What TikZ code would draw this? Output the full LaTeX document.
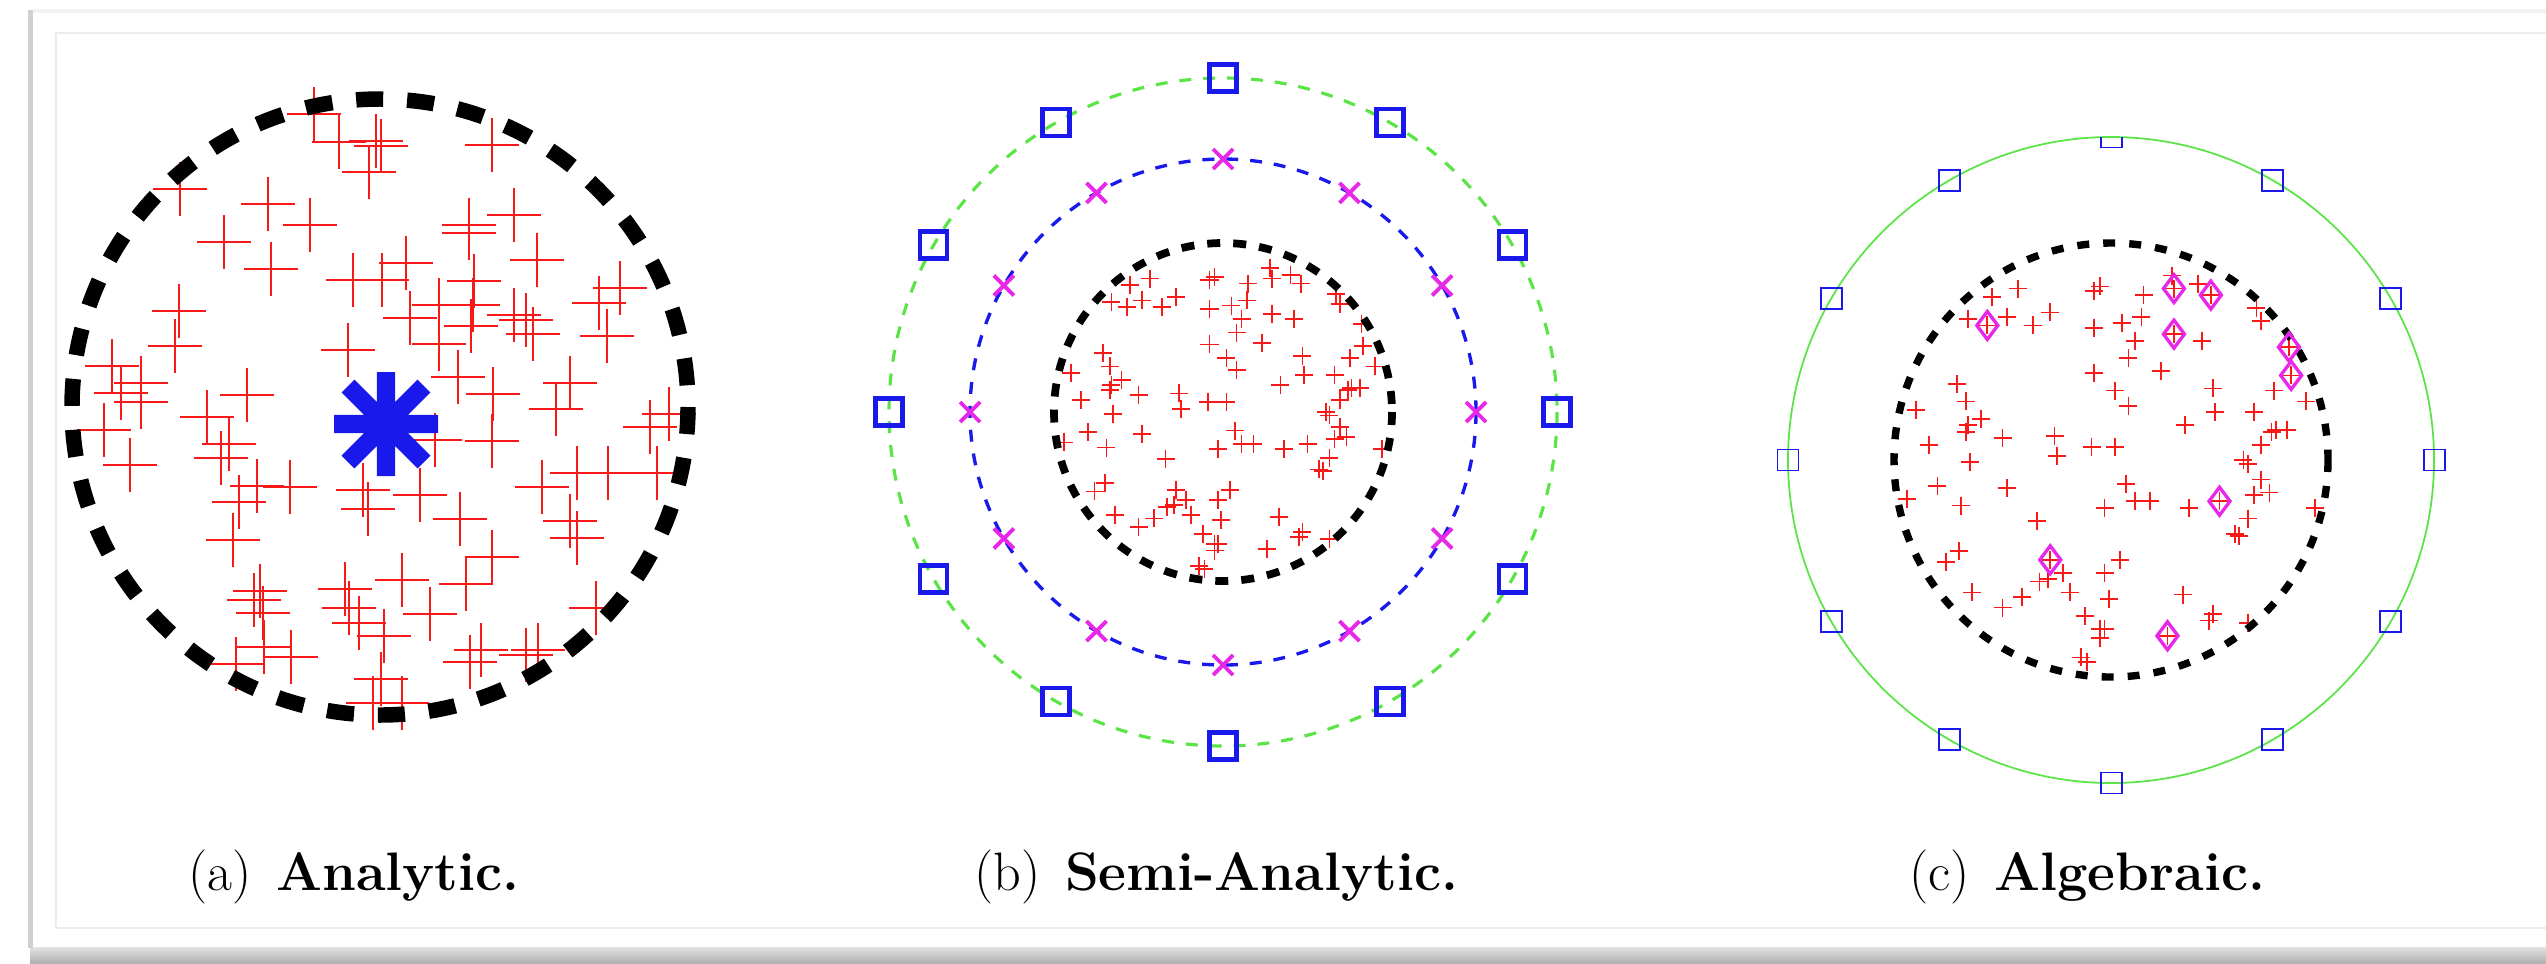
\documentclass[tikz,border=0pt]{standalone}
\usepackage{tikz}
\usetikzlibrary{calc}
\definecolor{plotred}{RGB}{250,25,25}
\definecolor{plotblue}{RGB}{25,25,235}
\definecolor{plotgreen}{RGB}{90,228,70}
\definecolor{plotmagenta}{RGB}{232,40,232}
\definecolor{framegrey}{RGB}{208,208,208}
\definecolor{rulegrey}{RGB}{236,236,236}

% samples of the analytic panel, in pixels
\def\analyticpts{314/114, 339/142, 376/141, 381/146, 369/172, 492/145, 180/189,
  268/204, 310/225, 224/242, 271/269, 469/225, 469/233, 514/215, 537/260,
  353/280, 382/280, 406/263, 474/281, 473/305, 526/320, 533/334, 514/315,
  620/288, 599/303, 607/336, 179/311, 175/346, 439/305, 410/318, 439/344,
  471/326, 348/350, 112/366, 141/383, 141/402, 121/393, 247/395, 458/377,
  493/394, 570/383, 556/409, 207/417, 229/444, 221/458, 104/430, 130/465,
  650/427, 669/414, 492/441, 435/440, 257/486, 290/487, 239/502, 363/490,
  368/509, 420/495, 460/519, 542/487, 577/473, 608/473, 657/473, 570/521,
  577/538, 233/540, 492/557, 466/584, 402/580, 260/591, 254/600, 263/613,
  345/589, 349/608, 359/623, 384/636, 430/614, 596/608, 264/647, 291/657,
  236/664, 481/650, 470/662, 538/650, 526/655, 381/679, 373/703, 402/703}
% samples of panels (b) and (c), relative to the inner radius
\def\unitpts{0.28/-0.85, 0.29/-0.79, 0.40/-0.81, 0.46/-0.76, -0.08/-0.78,
  -0.05/-0.80, -0.43/-0.79, 0.15/-0.76, -0.55/-0.75, 0.67/-0.70, 0.69/-0.64,
  -0.66/-0.65, -0.57/-0.62, -0.48/-0.66, -0.36/-0.62, -0.28/-0.68,
  -0.08/-0.61, 0.05/-0.63, 0.14/-0.66, 0.11/-0.55, 0.29/-0.58, 0.42/-0.55,
  0.82/-0.52, 0.83/-0.39, 0.08/-0.47, -0.08/-0.40, 0.23/-0.41, 0.02/-0.32,
  0.08/-0.25, 0.47/-0.33, 0.75/-0.32, 0.90/-0.27, -0.71/-0.35, -0.67/-0.27,
  -0.90/-0.23, -0.60/-0.19, -0.66/-0.16, -0.67/-0.13, 0.48/-0.22,
  0.66/-0.22, 0.34/-0.16, 0.74/-0.13, 0.76/-0.14, 0.81/-0.14, -0.50/-0.10,
  -0.26/-0.11, -0.84/-0.07, 0.69/-0.07, -0.09/-0.06, 0.02/-0.06,
  -0.25/-0.02, -0.65/0.01, 0.61/0.00, 0.63/0.02, 0.69/0.09, 0.07/0.11,
  -0.80/0.12, -0.48/0.13, 0.66/0.16, 0.73/0.15, -0.94/0.18, 0.11/0.19,
  0.18/0.19, -0.03/0.22, 0.36/0.22, 0.50/0.19, 0.94/0.22, -0.69/0.21,
  -0.34/0.28, 0.63/0.27, 0.57/0.34, 0.59/0.35, -0.70/0.42, -0.76/0.47,
  0.04/0.46, -0.28/0.46, -0.22/0.52, -0.03/0.52, -0.33/0.56, -0.29/0.55,
  -0.64/0.61, -0.19/0.61, 0.33/0.62, -0.41/0.63, -0.01/0.64, -0.50/0.68,
  -0.12/0.72, 0.47/0.71, 0.45/0.74, 0.63/0.75, -0.05/0.78, -0.03/0.78,
  -0.05/0.82, 0.26/0.81, -0.14/0.91, -0.11/0.93}
\def\hubpts{0.29/-0.79, 0.46/-0.76, -0.57/-0.62, 0.29/-0.58, 0.82/-0.52,
  0.83/-0.39, 0.50/0.19, -0.28/0.46, 0.26/0.81}

\begin{document}
\begin{tikzpicture}[x=0.01cm, y=-0.01cm,
  every node/.style={font=\fontsize{15.4}{18.5}\selectfont, inner sep=0pt},
  bigplus/.style={draw=plotred, line width=0.6pt},
  plusmark/.style={draw=plotred, line width=0.5pt},
  rim/.style={draw=black, line width=#1},
  greenring/.style={draw=plotgreen, line width=#1},
  bluering/.style={draw=plotblue, line width=0.95pt, dash pattern=on 3.4pt off 3.4pt},
  boxmark/.style={draw=plotblue, line width=#1},
  xmark/.style={draw=plotmagenta, line width=1.1pt},
  hubmark/.style={draw=plotmagenta, line width=0.95pt, line join=miter},
  centremark/.style={draw=plotblue, line width=5.2pt}]
\useasboundingbox (0,0) rectangle (2546,963);
% frame with its shadow
\shade[top color=gray!22, bottom color=gray!62] (30,947) rectangle (2546,963);
\fill[framegrey] (28,10) rectangle (33,948);
\draw[rulegrey!70, line width=1pt] (33,11) -- (2546,11);
\draw[rulegrey, line width=0.6pt] (2546,33) -- (56,33) -- (56,928) -- (2546,928);

% (a)
\coordinate (ca) at (380,407);
\coordinate (star) at (386,424);
\foreach \x/\y in \analyticpts
  \draw[bigplus] (\x,\y) +(-27,0) -- +(27,0) +(0,-27) -- +(0,27);
\draw[rim=4.4pt, dash pattern=on 7.7pt off 6.8pt] (ca) circle[radius=308];
\draw[centremark] (star) +(-52,0) -- +(52,0) +(0,-52) -- +(0,52)
  +(-38,-38) -- +(38,38) +(-38,38) -- +(38,-38);

% (b)
\coordinate (cb) at (1223,412);
\draw[greenring=0.9pt, dash pattern=on 3.4pt off 3.4pt] (cb) circle[radius=334];
\draw[bluering] (cb) circle[radius=253];
\foreach \u/\v in \unitpts
  \draw[plusmark] ($(cb)+(\u*169,\v*169)$) +(-9,0) -- +(9,0) +(0,-9) -- +(0,9);
\draw[rim=2.2pt, dash pattern=on 3.7pt off 3.7pt] (cb) circle[radius=169];
\foreach \a in {0,30,...,330} {
  \draw[boxmark=1.2pt] ($(cb)+(\a:334)$) +(-13.5,-13.5) rectangle +(13.5,13.5);
  \draw[xmark] ($(cb)+(\a:253)$) +(-10,-10) -- +(10,10) +(-10,10) -- +(10,-10);
}

% (c)
\coordinate (cc) at (2111,460);
\draw[greenring=0.5pt] (cc) circle[radius=323];
\foreach \u/\v in \unitpts
  \draw[plusmark] ($(cc)+(\u*217,\v*217)$) +(-9,0) -- +(9,0) +(0,-9) -- +(0,9);
\draw[rim=2.1pt, dash pattern=on 3.4pt off 4pt] (cc) circle[radius=217];
\begin{scope}
  \clip (1700,137) rectangle (2520,900);
  \foreach \a in {0,30,...,330}
    \draw[boxmark=0.55pt] ($(cc)+(\a:323)$) +(-10.5,-10.5) rectangle +(10.5,10.5);
\end{scope}
\foreach \u/\v in \hubpts
  \draw[hubmark] ($(cc)+(\u*217,\v*217)$) +(0,-14) -- +(10.5,0) -- +(0,14) -- +(-10.5,0) -- cycle;

% captions
\node[anchor=base west] (capa) at (188,890) {(a)\hspace{0.45em}\textbf{Analytic.}};
\node[anchor=base west] (capb) at (974,890) {(b)\hspace{0.45em}\textbf{Semi-Analytic.}};
\node[anchor=base west] (capc) at (1909,890) {(c)\hspace{0.45em}\textbf{Algebraic.}};
\end{tikzpicture}
\end{document}
